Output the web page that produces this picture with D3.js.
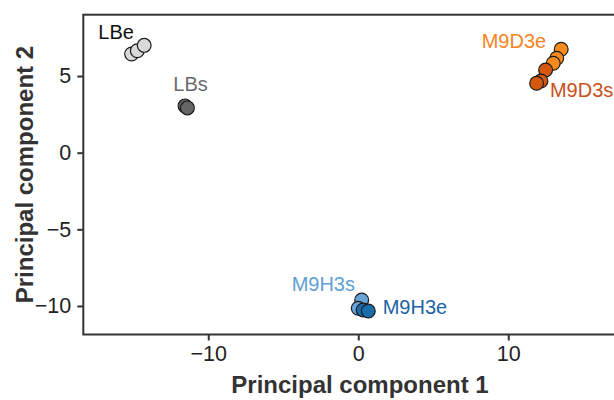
<!DOCTYPE html>
<html><head><meta charset="utf-8">
<script src="https://cdn.jsdelivr.net/npm/d3@7"></script>
<style>body{margin:0;background:#fff}svg{display:block}</style>
</head><body>
<svg id="c" width="614" height="400"></svg>
<script>
// Data
const groups = ["LBe","LBs","M9D3e","M9D3s","M9H3s","M9H3e"];
const pc1 = {
  LBe:   [-15.11, -14.73, -14.27],
  LBs:   [-11.55, -11.39],
  M9D3e: [13.53, 13.23, 13.0],
  M9D3s: [12.49, 12.18, 11.89],
  M9H3s: [0.23, 0.0],
  M9H3e: [0.33, 0.67]
};
const pc2 = {
  LBe:   [6.44, 6.65, 7.0],
  LBs:   [3.05, 2.92],
  M9D3e: [6.75, 6.16, 5.83],
  M9D3s: [5.39, 4.68, 4.53],
  M9H3s: [-9.61, -10.15],
  M9H3e: [-10.26, -10.33]
};
const labelX = {LBe:-17.33, LBs:-12.33, M9D3e:8.23, M9D3s:12.78, M9H3s:-4.44, M9H3e:1.63};
const labelY = {LBe:7.40, LBs:4.04, M9D3e:6.85, M9D3s:3.61, M9H3s:-9.0, M9H3e:-10.52};
const xTicks = [-10, 0, 10];
const yTicks = [-10, -5, 0, 5];
const xTitle = "Principal component 1";
const yTitle = "Principal component 2";

const fills = {LBe:"#d9d9d9", LBs:"#666666", M9D3e:"#f98b1e", M9D3s:"#d4590e", M9H3s:"#6aa3d8", M9H3e:"#1b6cab"};
const textCols = {LBe:"#111111", LBs:"#6b6b6b", M9D3e:"#f7841f", M9D3s:"#c8501a", M9H3s:"#5e9fd6", M9H3e:"#1d63a3"};

const svg = d3.select("#c");
const L = 83.3, R = 635, T = 14.7, B = 334.5;
const x = d3.scaleLinear().domain([-18.33, 18.45]).range([L, R]);
const y = d3.scaleLinear().domain([-11.86, 9.0]).range([B, T]);
const font = "'Liberation Sans', Arial, Helvetica, sans-serif";

// axes
const gx = svg.append("g").attr("transform", `translate(0,${B})`)
  .call(d3.axisBottom(x).tickValues(xTicks).tickSize(6).tickPadding(5).tickSizeOuter(0));
const gy = svg.append("g").attr("transform", `translate(${L},0)`)
  .call(d3.axisLeft(y).tickValues(yTicks).tickSize(6).tickPadding(6).tickSizeOuter(0));
[gx, gy].forEach(g => {
  g.select(".domain").remove();
  g.selectAll(".tick line").attr("stroke", "#333").attr("stroke-width", 2);
  g.selectAll(".tick text").attr("fill", "#222").style("font-family", font).style("font-size", "21.5px");
});

// frame
svg.append("rect").attr("x", L).attr("y", T).attr("width", R - L).attr("height", B - T)
  .attr("fill", "none").attr("stroke", "#333").attr("stroke-width", 2);

// points
groups.forEach(gname => {
  const pts = pc1[gname].map((v, i) => ({x: v, y: pc2[gname][i]}));
  svg.append("g").selectAll("circle").data(pts).join("circle")
    .attr("cx", d => x(d.x)).attr("cy", d => y(d.y)).attr("r", 6.9)
    .attr("fill", fills[gname]).attr("stroke", "#1a1a1a").attr("stroke-width", 1.2);
});

// labels
svg.append("g").selectAll("text").data(groups).join("text")
  .attr("x", d => x(labelX[d])).attr("y", d => y(labelY[d]))
  .attr("fill", d => textCols[d])
  .style("font-family", font).style("font-size", "20px")
  .text(d => d);

// axis titles
svg.append("text").attr("x", 360).attr("y", 393).attr("text-anchor", "middle")
  .style("font-family", font).style("font-size", "24px").style("font-weight", "bold")
  .attr("fill", "#333").text(xTitle);
svg.append("text").attr("transform", `translate(33,${(T + B) / 2}) rotate(-90)`)
  .attr("text-anchor", "middle")
  .style("font-family", font).style("font-size", "24px").style("font-weight", "bold")
  .attr("fill", "#333").text(yTitle);
</script>
</body></html>
